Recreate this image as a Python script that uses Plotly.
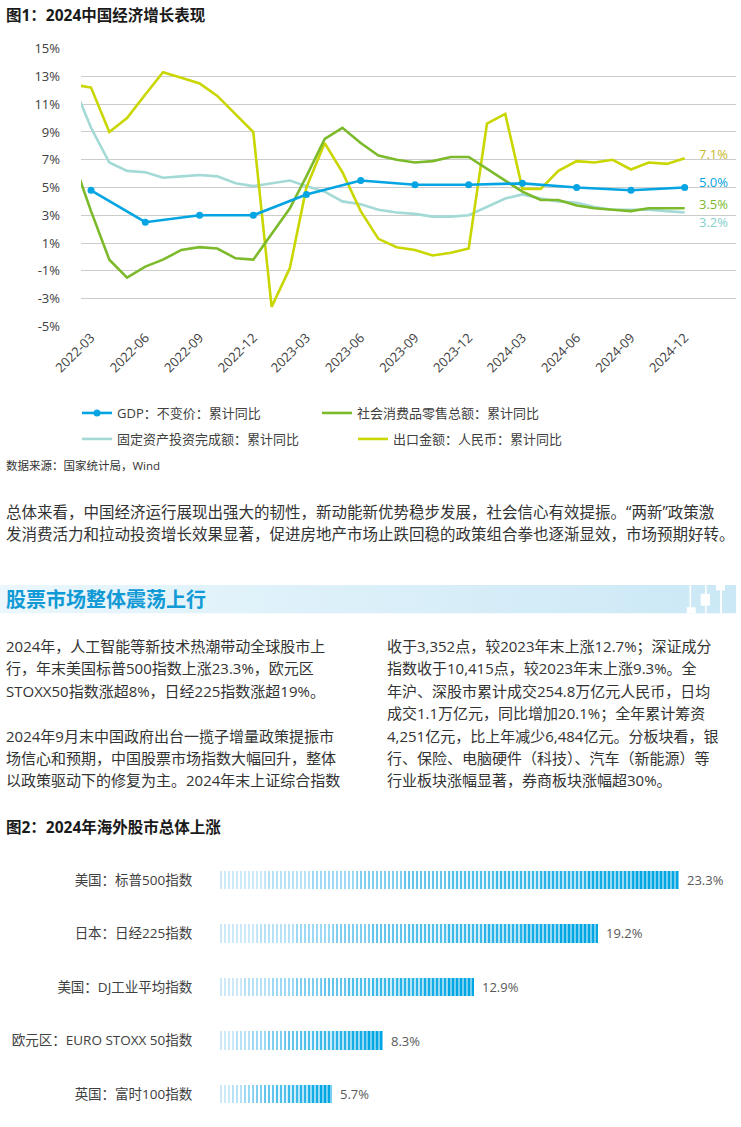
import base64
import plotly.graph_objects as go

W, H = 741, 1127
FONT = "Open Sans, Noto Sans CJK SC, sans-serif"
TEXT = "#333333"
AXIS_TEXT = "#404040"

# ---------------- 图1：2024中国经济增长表现 ----------------
gdp_months = ["2022-03", "2022-06", "2022-09", "2022-12", "2023-03", "2023-06",
              "2023-09", "2023-12", "2024-03", "2024-06", "2024-09", "2024-12"]
gdp_values = [4.8, 2.5, 3.0, 3.0, 4.5, 5.5, 5.2, 5.2, 5.3, 5.0, 4.8, 5.0]

# 1-2月合并，记在2月
cum_months = ["2022-02", "2022-03", "2022-04", "2022-05", "2022-06", "2022-07", "2022-08",
              "2022-09", "2022-10", "2022-11", "2022-12",
              "2023-02", "2023-03", "2023-04", "2023-05", "2023-06", "2023-07", "2023-08",
              "2023-09", "2023-10", "2023-11", "2023-12",
              "2024-02", "2024-03", "2024-04", "2024-05", "2024-06", "2024-07", "2024-08",
              "2024-09", "2024-10", "2024-11", "2024-12"]
retail_values = [6.7, 3.3, -0.2, -1.5, -0.7, -0.2, 0.5, 0.7, 0.6, -0.1, -0.2,
                 3.5, 5.8, 8.5, 9.3, 8.2, 7.3, 7.0, 6.8, 6.9, 7.2, 7.2,
                 5.5, 4.7, 4.1, 4.1, 3.7, 3.5, 3.4, 3.3, 3.5, 3.5, 3.5]
fai_values = [12.2, 9.3, 6.8, 6.2, 6.1, 5.7, 5.8, 5.9, 5.8, 5.3, 5.1,
              5.5, 5.1, 4.7, 4.0, 3.8, 3.4, 3.2, 3.1, 2.9, 2.9, 3.0,
              4.2, 4.5, 4.2, 4.0, 3.9, 3.6, 3.4, 3.4, 3.4, 3.3, 3.2]

export_months = ["2022-02", "2022-03", "2022-04", "2022-05", "2022-06", "2022-07", "2022-08",
                 "2022-09", "2022-10", "2022-11", "2022-12",
                 "2023-01", "2023-02", "2023-03", "2023-04", "2023-05", "2023-06", "2023-07",
                 "2023-08", "2023-09", "2023-10", "2023-11", "2023-12",
                 "2024-01", "2024-02", "2024-03", "2024-04", "2024-05", "2024-06", "2024-07",
                 "2024-08", "2024-09", "2024-10", "2024-11", "2024-12"]
export_values = [12.4, 12.2, 9.0, 10.0, 11.7, 13.3, 12.9, 12.5, 11.6, 10.3, 9.0,
                 -3.6, -0.8, 5.0, 8.2, 6.1, 3.3, 1.3, 0.7, 0.5, 0.1, 0.3, 0.6,
                 9.6, 10.3, 4.9, 4.9, 6.2, 6.9, 6.8, 7.0, 6.3, 6.8, 6.7, 7.1]

x_ticks = ["2022-03", "2022-06", "2022-09", "2022-12", "2023-03", "2023-06",
           "2023-09", "2023-12", "2024-03", "2024-06", "2024-09", "2024-12"]
y_ticks = [15, 13, 11, 9, 7, 5, 3, 1, -1, -3, -5]
y_tick_text = ["15%", "13%", "11%", "9%", "7%", "5%", "3%", "1%", "-1%", "-3%", "-5%"]

# ---------------- 图2：2024年海外股市总体上涨 ----------------
bar_labels = ["美国：标普500指数", "日本：日经225指数", "美国：DJ工业平均指数",
              "欧元区：EURO STOXX 50指数", "英国：富时100指数"]
bar_values = [23.3, 19.2, 12.9, 8.3, 5.7]

# ---------------- 正文 ----------------
para1 = ["总体来看，中国经济运行展现出强大的韧性，新动能新优势稳步发展，社会信心有效提振。“两新”政策激",
         "发消费活力和拉动投资增长效果显著，促进房地产市场止跌回稳的政策组合拳也逐渐显效，市场预期好转。"]
col_left = ["2024年，人工智能等新技术热潮带动全球股市上",
            "行，年末美国标普500指数上涨23.3%，欧元区",
            "STOXX50指数涨超8%，日经225指数涨超19%。",
            "",
            "2024年9月末中国政府出台一揽子增量政策提振市",
            "场信心和预期，中国股票市场指数大幅回升，整体",
            "以政策驱动下的修复为主。2024年末上证综合指数"]
col_right = ["收于3,352点，较2023年末上涨12.7%；深证成分",
             "指数收于10,415点，较2023年末上涨9.3%。全",
             "年沪、深股市累计成交254.8万亿元人民币，日均",
             "成交1.1万亿元，同比增加20.1%；全年累计筹资",
             "4,251亿元，比上年减少6,484亿元。分板块看，银",
             "行、保险、电脑硬件（科技）、汽车（新能源）等",
             "行业板块涨幅显著，券商板块涨幅超30%。"]


def py(y):
    return 1 - y / H


def px(x):
    return x / W


fig = go.Figure()

# line series: legend 1 = GDP, retail; legend 2 = FAI, export
fig.add_trace(go.Scatter(
    x=gdp_months, y=gdp_values, mode="lines+markers", name="GDP：不变价：累计同比",
    line=dict(color="#05a4e2", width=2.6), marker=dict(size=7, color="#05a4e2"),
    legend="legend", zorder=3, xaxis="x", yaxis="y"))
fig.add_trace(go.Scatter(
    x=cum_months, y=retail_values, mode="lines", name="社会消费品零售总额：累计同比",
    line=dict(color="#7cba2c", width=2.6), legend="legend", zorder=2,
    xaxis="x", yaxis="y"))
fig.add_trace(go.Scatter(
    x=cum_months, y=fai_values, mode="lines", name="固定资产投资完成额：累计同比",
    line=dict(color="#a3dad6", width=2.6), legend="legend2", zorder=0,
    xaxis="x", yaxis="y"))
fig.add_trace(go.Scatter(
    x=export_months, y=export_values, mode="lines", name="出口金额：人民币：累计同比",
    line=dict(color="#c9d600", width=2.6), legend="legend2", zorder=1,
    xaxis="x", yaxis="y"))

# end-of-line value labels
end_labels = [
    (export_months[-1], export_values[-1], "#c9b82a", 4),
    (gdp_months[-1], gdp_values[-1], "#05a4e2", 5),
    (cum_months[-1], retail_values[-1], "#7cba2c", 4),
    (cum_months[-1], fai_values[-1], "#86d0ca", -10),
]
for xm, yv, col, ys in end_labels:
    fig.add_annotation(x=xm, y=yv, xref="x", yref="y", text=f"{yv:.1f}%",
                       showarrow=False, xanchor="left", yanchor="middle",
                       xshift=12, yshift=ys, font=dict(size=13, color=col, family=FONT))

# bars: striped gradient, each bar split into segments getting denser/darker
N_SEG = 10
light = (178, 222, 246)
dark = (0, 166, 228)
for k in range(N_SEG):
    t = k / (N_SEG - 1)
    col = "rgb(%d,%d,%d)" % tuple(round(a + (b - a) * t) for a, b in zip(light, dark))
    fig.add_trace(go.Bar(
        x=[v / N_SEG for v in bar_values], y=bar_labels, orientation="h",
        xaxis="x2", yaxis="y2", showlegend=False, hoverinfo="skip",
        marker=dict(color="white", line=dict(width=0),
                    pattern=dict(shape="|", size=4, solidity=0.32 + 0.45 * t,
                                 fgcolor=col, bgcolor="white", fillmode="replace"))))

for lab, v in zip(bar_labels, bar_values):
    fig.add_annotation(x=v, y=lab, xref="x2", yref="y2", text=f"{v:.1f}%",
                       showarrow=False, xanchor="left", yanchor="middle", xshift=6,
                       font=dict(size=13, color="#595959", family=FONT))


# ---------------- text blocks ----------------
def add_text(x, y, text, size, color=TEXT, bold=False):
    fig.add_annotation(xref="paper", yref="paper", x=px(x), y=py(y),
                       text=(f"<b>{text}</b>" if bold else text),
                       showarrow=False, xanchor="left", yanchor="middle",
                       font=dict(size=size, color=color, family=FONT))


add_text(4, 15, "图1：2024中国经济增长表现", 15.5, "#1a1a1a", bold=True)
add_text(4, 465, "数据来源：国家统计局，Wind", 11.5, "#333333")
for i, line in enumerate(para1):
    add_text(4, 512 + 22 * i, line, 15.5)
add_text(4, 599, "股票市场整体震荡上行", 20, "#119ad6", bold=True)
for i, line in enumerate(col_left):
    if line:
        add_text(4, 646 + 22.4 * i, line, 15)
for i, line in enumerate(col_right):
    add_text(385, 646 + 22.4 * i, line, 15)
add_text(4, 827, "图2：2024年海外股市总体上涨", 15.5, "#1a1a1a", bold=True)

# section banner: light-blue gradient with candle-like white marks on the right
banner_svg = (
    '<svg xmlns="http://www.w3.org/2000/svg" width="736" height="29" viewBox="0 0 736 29" '
    'preserveAspectRatio="none">'
    '<defs><linearGradient id="g" x1="0" x2="1" y1="0" y2="0">'
    '<stop offset="0" stop-color="#ebf7fc"/><stop offset="1" stop-color="#cbe8f6"/>'
    '</linearGradient></defs>'
    '<rect width="736" height="29" fill="url(#g)"/>'
    '<rect x="689.5" y="0" width="1.6" height="29" fill="#fff"/>'
    '<rect x="686.7" y="22.7" width="9" height="6.3" fill="#fff"/>'
    '<rect x="705" y="0" width="1.6" height="29" fill="#fff"/>'
    '<rect x="700.7" y="9" width="9.3" height="12" fill="#fff"/>'
    '<rect x="720.2" y="0" width="1.8" height="29" fill="#fff"/>'
    '<rect x="716" y="0" width="9" height="5.5" fill="#fff"/>'
    '</svg>')
fig.add_layout_image(
    source="data:image/svg+xml;base64," + base64.b64encode(banner_svg.encode()).decode(),
    xref="paper", yref="paper", x=0, y=py(585), sizex=px(736), sizey=28.5 / H,
    xanchor="left", yanchor="top", sizing="stretch", layer="below")

fig.update_layout(
    width=W, height=H,
    margin=dict(l=0, r=0, t=0, b=0, autoexpand=False),
    paper_bgcolor="white", plot_bgcolor="white",
    font=dict(family=FONT, color=AXIS_TEXT),
    barmode="stack", bargap=0.655,
    xaxis=dict(domain=[px(81), px(736)], type="date", automargin=False,
               range=["2022-02-12", "2025-02-26"],
               tickvals=x_ticks, ticktext=x_ticks, tickangle=-45,
               tickfont=dict(size=13, color=AXIS_TEXT),
               showgrid=False, zeroline=False, showline=False, ticks=""),
    yaxis=dict(domain=[py(326.7), py(48.3)], range=[-5.03, 15.03], automargin=False,
               tickvals=y_ticks, ticktext=y_tick_text,
               tickfont=dict(size=13, color=AXIS_TEXT), ticklabelstandoff=20,
               gridcolor="#cccccc", gridwidth=1.3, zeroline=False, showline=False, ticks=""),
    xaxis2=dict(domain=[px(219), px(735)], range=[0, 26.14], visible=False,
                anchor="y2", automargin=False),
    yaxis2=dict(domain=[py(1121), py(853)], anchor="x2", autorange="reversed",
                automargin=False, categoryorder="array", categoryarray=bar_labels,
                showline=True, linecolor="#d9d9d9", linewidth=2, showgrid=False,
                ticks="", ticklabelstandoff=22,
                tickfont=dict(size=13.5, color=AXIS_TEXT)),
    legend=dict(orientation="h", x=px(77), y=py(413), xanchor="left", yanchor="middle",
                entrywidth=195, entrywidthmode="pixels", itemwidth=30,
                traceorder="normal",
                font=dict(size=13, color=AXIS_TEXT), bgcolor="rgba(0,0,0,0)"),
    legend2=dict(orientation="h", x=px(77), y=py(439), xanchor="left", yanchor="middle",
                 entrywidth=231, entrywidthmode="pixels", itemwidth=30,
                 traceorder="normal",
                 font=dict(size=13, color=AXIS_TEXT), bgcolor="rgba(0,0,0,0)"),
)

fig.write_html("out.html", config={"displayModeBar": False},
               post_script="document.body.style.margin='0';document.body.style.overflow='hidden';")
